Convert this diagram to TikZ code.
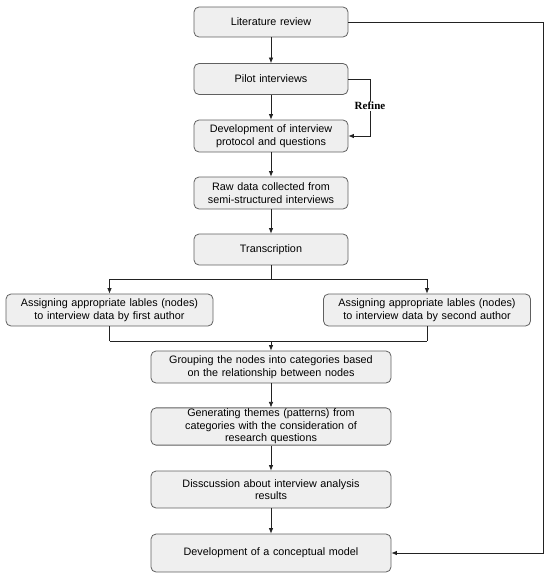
\documentclass[tikz,border=0pt]{standalone}
\usepackage{fontspec}
\setmainfont{Liberation Sans}
\newfontfamily\serifbold{Liberation Serif}
\usetikzlibrary{arrows.meta}
\definecolor{boxfill}{HTML}{EFEFEF}
\definecolor{boxline}{HTML}{606060}
\definecolor{wire}{HTML}{222222}
\begin{document}
\begin{tikzpicture}[x=1pt,y=-1pt,
  stepbox/.style={draw=boxline, line width=0.8pt, fill=boxfill, rounded corners=5pt,
     align=center, inner sep=1pt, font=\fontsize{10.8}{12.6}\selectfont},
  mainbox/.style={stepbox, minimum width=154pt, text width=150pt},
  lowbox/.style={stepbox, minimum width=240pt, text width=236pt},
  sidebox/.style={stepbox, minimum width=207pt, text width=203pt, minimum height=32pt},
  link/.style={draw=wire, line width=0.7pt},
  arr/.style={link, -{Latex[length=5.5pt,width=4.5pt]}}]
\useasboundingbox (0,0) rectangle (550,578);
\node[mainbox, minimum height=30pt] (lit) at (271,22) {Literature review};
\node[mainbox, minimum height=31pt] (pilot) at (271,79) {Pilot interviews};
\node[mainbox, minimum height=32pt] (dev) at (271,136) {Development of interview\\protocol and questions};
\node[mainbox, minimum height=32pt] (raw) at (271,193) {Raw data collected from\\semi-structured interviews};
\node[mainbox, minimum height=31pt] (trans) at (271,249.5) {Transcription};
\node[sidebox] (first) at (109.5,310) {Assigning appropriate lables (nodes)\\to interview data by first author};
\node[sidebox] (second) at (427,310) {Assigning appropriate lables (nodes)\\to interview data by second author};
\node[lowbox, minimum height=32pt] (group) at (271,367) {Grouping the nodes into categories based\\on the relationship between nodes};
\node[lowbox, minimum height=37pt] (gen) at (271,426.5) {Generating themes (patterns) from\\categories with the consideration of\\research questions};
\node[lowbox, minimum height=37pt] (disc) at (271,489.5) {Disscussion about interview analysis\\results};
\node[lowbox, minimum height=38pt] (model) at (271,553) {Development of a conceptual model};

\coordinate (split) at (271,279);
\coordinate (splitL) at (109.5,279);
\coordinate (splitR) at (427,279);
\coordinate (mergeL) at (109.5,341);
\coordinate (mergeR) at (427,341);
\coordinate (merge) at (271,341);
\coordinate (refA) at (370,79);
\coordinate (refB) at (370,136);
\coordinate (fbA) at (543,22);
\coordinate (fbB) at (543,553);

\draw[arr] (lit) -- (pilot);
\draw[arr] (pilot) -- (dev);
\draw[arr] (dev) -- (raw);
\draw[arr] (raw) -- (trans);
\draw[link] (trans) -- (split);
\draw[link] (splitL) -- (splitR);
\draw[arr] (splitL) -- (first);
\draw[arr] (splitR) -- (second);
\draw[link] (first) -- (mergeL);
\draw[link] (second) -- (mergeR);
\draw[link] (mergeL) -- (mergeR);
\draw[arr] (merge) -- (group);
\draw[arr] (group) -- (gen);
\draw[arr] (gen) -- (disc);
\draw[arr] (disc) -- (model);
\draw[arr] (pilot.east) -- (refA) -- (refB) -- (dev.east);
\node[fill=white, inner sep=1.5pt, font=\serifbold\bfseries\fontsize{11}{13}\selectfont] (refine) at (370,106) {Refine};
\draw[arr] (lit.east) -- (fbA) -- (fbB) -- (model.east);
\end{tikzpicture}
\end{document}
